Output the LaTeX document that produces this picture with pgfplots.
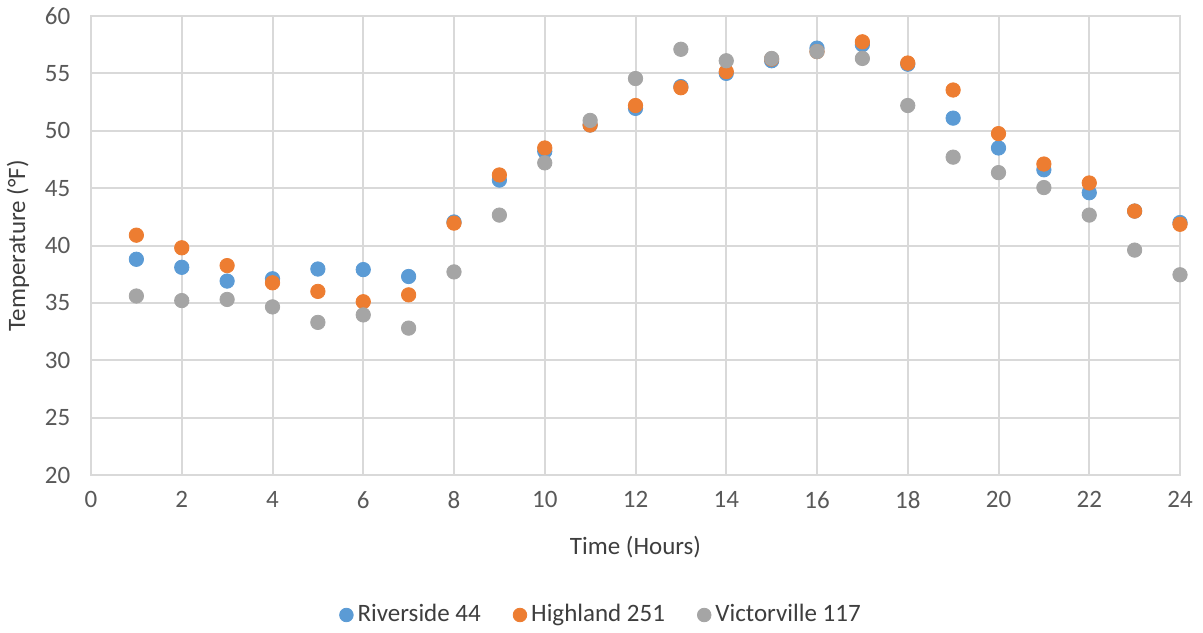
\documentclass[border=0pt]{standalone}
\usepackage{fontspec}
\setmainfont{Carlito}
\usepackage{pgfplots}
\pgfplotsset{compat=1.18}
\definecolor{rblue}{HTML}{5B9BD5}
\definecolor{horange}{HTML}{ED7D31}
\definecolor{vgray}{HTML}{A5A5A5}
\definecolor{gridc}{HTML}{D9D9D9}
\definecolor{txt}{HTML}{595959}
\begin{document}
\fontsize{12.5}{15}\selectfont
\begin{tikzpicture}
\path[use as bounding box] (-45.5pt,-78.5pt) rectangle (556pt,237.5pt);
\begin{axis}[
  at={(0pt,0pt)}, anchor=south west,
  scale only axis, width=544.5pt, height=229.5pt,
  xmin=0, xmax=24, ymin=20, ymax=60,
  xtick={0,2,...,24}, ytick={20,25,...,60},
  major tick length=0pt,
  grid=major,
  major grid style={draw=gridc, line width=1pt},
  axis line style={draw=gridc, line width=1pt},
  /pgf/number format/assume math mode=true,
  tick label style={text=txt, font=\fontsize{12.5}{15}\selectfont},
  yticklabel style={xshift=-6pt},
  xticklabel style={yshift=-4pt},
  xlabel={Time (Hours)}, ylabel={Temperature (°F)},
  label style={text=txt!70!black, font=\fontsize{12.5}{15}\selectfont},
  xlabel style={at={([yshift=-36pt]axis description cs:0.5,0)}, anchor=center},
  ylabel style={at={([xshift=-36.5pt]axis description cs:0,0.5)}, anchor=center},
  legend style={draw=none, at={(255.5pt,-70pt)}, anchor=center, legend columns=-1,
    font=\fontsize{12.5}{15}\selectfont, text=txt!70!black,
    /tikz/every even column/.append style={column sep=14pt}},
  legend cell align=left,
  legend image code/.code={\draw[#1] (0pt,0pt) circle (3.4pt);},
  every axis plot/.append style={only marks, mark=*, mark size=3.6pt},
]
\addplot[rblue, mark options={draw=rblue, fill=rblue}, fill=rblue] coordinates {
(1,38.8)(2,38.1)(3,36.9)(4,37.1)(5,37.95)(6,37.9)(7,37.3)(8,42.05)
(9,45.7)(10,48.2)(11,50.5)(12,51.95)(13,53.85)(14,55.0)(15,56.1)(16,57.2)
(17,57.5)(18,55.8)(19,51.1)(20,48.5)(21,46.6)(22,44.6)(23,43.0)(24,42.0)};
\addlegendentry{Riverside 44}
\addplot[horange, mark options={draw=horange, fill=horange}, fill=horange] coordinates {
(1,40.9)(2,39.8)(3,38.25)(4,36.75)(5,36.0)(6,35.1)(7,35.7)(8,41.95)
(9,46.15)(10,48.5)(11,50.5)(12,52.2)(13,53.75)(14,55.15)(15,56.25)(16,56.9)
(17,57.75)(18,55.9)(19,53.55)(20,49.75)(21,47.1)(22,45.45)(23,43.0)(24,41.85)};
\addlegendentry{Highland 251}
\addplot[vgray, mark options={draw=vgray, fill=vgray}, fill=vgray] coordinates {
(1,35.6)(2,35.2)(3,35.3)(4,34.65)(5,33.3)(6,33.95)(7,32.8)(8,37.7)
(9,42.65)(10,47.2)(11,50.9)(12,54.55)(13,57.1)(14,56.1)(15,56.3)(16,56.9)
(17,56.3)(18,52.2)(19,47.7)(20,46.35)(21,45.05)(22,42.65)(23,39.6)(24,37.45)};
\addlegendentry{Victorville 117}
\end{axis}
\end{tikzpicture}
\end{document}
